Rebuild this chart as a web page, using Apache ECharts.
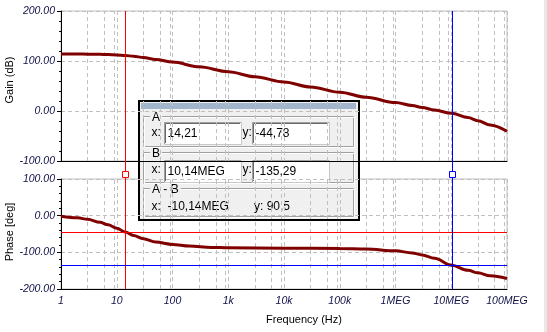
<!DOCTYPE html>
<html>
<head>
<meta charset="utf-8">
<script src="https://cdn.jsdelivr.net/npm/echarts@6/dist/echarts.min.js"></script>
<style>
  html, body { margin: 0; padding: 0; background: #fff; }
  #chart { width: 547px; height: 332px; }
</style>
</head>
<body>
<div id="chart"></div>
<script>
// Open-loop Bode response: gain (dB) and phase (deg) against frequency (Hz)
const gainFreq = [1, 2, 3, 5, 7, 10, 14.21, 20, 30, 50, 100, 300, 1e3, 3e3, 1e4, 3e4, 1e5, 3e5, 1e6, 2e6, 3e6, 5e6, 1.014e7, 2e7, 3e7, 5e7, 1e8];
const gainDb   = [114, 113.9, 113.7, 113.3, 112.8, 112.2, 111, 109.5, 107, 103, 97.8, 88.3, 78.5, 68.5, 58.2, 48, 37.6, 27.4, 16.8, 11, 7.2, 1.8, -4.6, -13, -19.5, -28, -40.6];

const phaseFreq = [1, 2, 3, 5, 7, 10, 14.21, 20, 30, 50, 100, 200, 500, 1e3, 1e4, 1e5, 3e5, 1e6, 2e6, 3e6, 5e6, 1.014e7, 2e7, 3e7, 5e7, 1e8];
const phaseDeg  = [-1.5, -6, -10, -18, -25, -34, -44.78, -54, -63, -72, -78.5, -83, -86.5, -87.8, -88.6, -89.5, -91, -96, -101.5, -107, -116, -135.29, -149, -156, -164, -171.5];

// Axis ticks
const freqTicks      = [1, 10, 100, 1e3, 1e4, 1e5, 1e6, 1e7, 1e8];
const freqTickLabels = ['1', '10', '100', '1k', '10k', '100k', '1MEG', '10MEG', '100MEG'];
const gainTicks  = [-100, 0, 100, 200];
const phaseTicks = [-200, -100, 0, 100];
// Intermediate dashed grid lines (3, 6 and 9 within each decade)
const minorGridFreq = [3, 6, 9, 30, 60, 90, 300, 600, 900, 3e3, 6e3, 9e3, 3e4, 6e4, 9e4,
                       3e5, 6e5, 9e5, 3e6, 6e6, 9e6, 3e7, 6e7, 9e7];

// Measurement cursors on the phase trace
const cursorNames  = ['A', 'B'];
const cursorFreq   = [14.21, 10.14e6];
const cursorPhase  = [-44.78, -135.29];
const cursorColors = ['#ff0000', '#0000ff'];
// Readout panel strings
const readoutX  = ['14,21', '10,14MEG'];
const readoutY  = ['-44,78', '-135,29'];
const readoutDX = '-10,14MEG';
const readoutDY = '90,5';

// Layout
const PLOT_LEFT = 61, PLOT_RIGHT = 40;
const TOP_Y = 11, TOP_H = 150;
const BOT_Y = 179, BOT_H = 110;
const GAP = BOT_Y - (TOP_Y + TOP_H);

const FONT = "'Liberation Sans', Arial, sans-serif";
const GRID_GREY = '#c0c0c0';
const dashed = { color: GRID_GREY, type: [4, 3], width: 1 };

const zip = (a, b) => a.map((v, i) => [v, b[i]]);

function freqLabel(v) {
  const idx = Math.round(Math.log10(v));
  return freqTickLabels[freqTicks.indexOf(Math.pow(10, idx))] || '';
}

function xAxisFor(gridIndex, showLabels) {
  return {
    type: 'log', logBase: 10, gridIndex,
    min: freqTicks[0], max: freqTicks[freqTicks.length - 1],
    axisLine: { show: true, onZero: false, lineStyle: { color: '#000', width: 1 } },
    axisTick: { show: false },
    splitLine: { show: true, lineStyle: dashed },
    axisLabel: {
      show: showLabels, formatter: freqLabel, margin: 7,
      fontFamily: FONT, fontSize: 10.5, fontStyle: 'italic', color: '#101048'
    }
  };
}

function yAxisFor(gridIndex, ticks) {
  return {
    type: 'value', gridIndex,
    min: ticks[0], max: ticks[ticks.length - 1], interval: ticks[1] - ticks[0],
    axisLine: { show: true, onZero: false, lineStyle: { color: '#000', width: 1 } },
    axisTick: { show: true, length: 4, lineStyle: { color: '#000' } },
    minorTick: { show: true, splitNumber: 5, length: 2, lineStyle: { color: '#000' } },
    splitLine: { show: true, lineStyle: dashed },
    axisLabel: {
      formatter: v => v.toFixed(2), margin: 6,
      fontFamily: FONT, fontSize: 10.5, fontStyle: 'italic', color: '#101048'
    }
  };
}

const minorGridMarkLine = {
  silent: true, symbol: ['none', 'none'], z: 1,
  label: { show: false }, emphasis: { disabled: true },
  lineStyle: dashed,
  data: minorGridFreq.map(f => ({ xAxis: f }))
};

const px = v => Math.round(v) + 0.5;

const cursorData = cursorFreq.map((f, i) => [f, cursorPhase[i]]);

const chart = echarts.init(document.getElementById('chart'), null, { renderer: 'canvas' });

// Readout panel
function textEl(x, y, text, extra) {
  return Object.assign({
    type: 'text', x, y,
    style: Object.assign({ text, fontFamily: FONT, fontSize: 12, fill: '#000', verticalAlign: 'middle' }, extra || {})
  });
}
function inputBox(x, y, w, h, text) {
  return [
    { type: 'rect', shape: { x: x + 0.5, y: y + 0.5, width: w, height: h }, style: { fill: '#fff', stroke: '#c8c8c8', lineWidth: 1 } },
    { type: 'polyline', shape: { points: [[x + 0.5, y + h], [x + 0.5, y + 0.5], [x + w, y + 0.5]] }, style: { stroke: '#a0a0a0', lineWidth: 1, fill: null } },
    { type: 'polyline', shape: { points: [[x + 1.5, y + h - 1], [x + 1.5, y + 1.5], [x + w - 1, y + 1.5]] }, style: { stroke: '#696969', lineWidth: 1, fill: null } },
    textEl(x + 3.5, y + h / 2 + 1, text)
  ];
}
function groupFrame(y, h, title) {
  return [
    { type: 'rect', shape: { x: 5.5, y: y + 0.5, width: 210, height: h }, style: { fill: null, stroke: '#a0a0a0', lineWidth: 1 } },
    { type: 'rect', shape: { x: 6.5, y: y + 1.5, width: 210, height: h }, style: { fill: null, stroke: '#ffffff', lineWidth: 1 } },
    textEl(12, y + 2, title, { backgroundColor: '#f0f0f0', padding: [0, 2, 0, 2] })
  ];
}

const panelChildren = [
  { type: 'rect', shape: { x: 1, y: 1, width: 220, height: 119 }, style: { fill: '#f0f0f0', stroke: '#000', lineWidth: 2 } },
  { type: 'rect', shape: { x: 3, y: 3, width: 215, height: 6 }, style: { fill: '#a1b6cd' } },
  ...groupFrame(16, 30, cursorNames[0]),
  textEl(13.5, 33, 'x:'),
  ...inputBox(26, 22, 77, 22, readoutX[0]),
  textEl(104.5, 33, 'y:'),
  ...inputBox(114, 22, 77, 22, readoutY[0]),
  ...groupFrame(52, 30, cursorNames[1]),
  textEl(13.5, 70, 'x:'),
  ...inputBox(26, 60, 77, 22, readoutX[1]),
  textEl(104.5, 70, 'y:'),
  ...inputBox(114, 60, 77, 22, readoutY[1]),
  ...groupFrame(88, 28, cursorNames[0] + ' - ' + cursorNames[1]),
  textEl(13.5, 107, 'x:'),
  textEl(29.5, 107, readoutDX),
  textEl(116, 107, 'y: ' + readoutDY)
];

const option = {
  animation: false,
  backgroundColor: '#ffffff',
  grid: [
    { left: PLOT_LEFT, right: PLOT_RIGHT, top: TOP_Y, height: TOP_H, show: true, borderColor: GRID_GREY, borderWidth: 1, backgroundColor: 'transparent' },
    { left: PLOT_LEFT, right: PLOT_RIGHT, top: BOT_Y, height: BOT_H, show: true, borderColor: GRID_GREY, borderWidth: 1, backgroundColor: 'transparent' }
  ],
  xAxis: [xAxisFor(0, false), xAxisFor(1, true)],
  yAxis: [yAxisFor(0, gainTicks), yAxisFor(1, phaseTicks)],
  series: [
    {
      name: 'Gain', type: 'line', xAxisIndex: 0, yAxisIndex: 0,
      data: zip(gainFreq, gainDb), showSymbol: false, symbol: 'none',
      smooth: 0.35, smoothMonotone: 'x',
      lineStyle: { color: '#800000', width: 3 }, z: 3, silent: true,
      markLine: minorGridMarkLine
    },
    {
      name: 'Phase', type: 'line', xAxisIndex: 1, yAxisIndex: 1,
      data: zip(phaseFreq, phaseDeg), showSymbol: false, symbol: 'none',
      smooth: 0.35, smoothMonotone: 'x',
      lineStyle: { color: '#800000', width: 3 }, z: 3, silent: true,
      markLine: minorGridMarkLine
    },
    {
      // cursor verticals across the gain plot
      type: 'custom', xAxisIndex: 0, yAxisIndex: 0, z: 6, silent: true,
      data: cursorData,
      renderItem(params, api) {
        const cs = params.coordSys;
        const p = api.coord([api.value(0), gainTicks[1]]);
        const col = cursorColors[params.dataIndex];
        return {
          type: 'line',
          shape: { x1: px(p[0]), y1: cs.y, x2: px(p[0]), y2: cs.y + cs.height },
          style: { stroke: col, lineWidth: 1 }
        };
      }
    },
    {
      // cursor crosshairs and handles on the phase plot
      type: 'custom', xAxisIndex: 1, yAxisIndex: 1, z: 6, silent: true,
      data: cursorData,
      renderItem(params, api) {
        const cs = params.coordSys;
        const p = api.coord([api.value(0), api.value(1)]);
        const col = cursorColors[params.dataIndex];
        const x = px(p[0]), y = px(p[1]);
        return {
          type: 'group',
          children: [
            { type: 'line', shape: { x1: cs.x, y1: y, x2: cs.x + cs.width, y2: y }, style: { stroke: col, lineWidth: 1 } },
            { type: 'line', shape: { x1: x, y1: cs.y - GAP, x2: x, y2: cs.y + cs.height }, style: { stroke: col, lineWidth: 1 } },
            { type: 'rect', shape: { x: x - 3, y: cs.y - 7.5, width: 6, height: 6 }, style: { fill: '#fff', stroke: col, lineWidth: 1 } }
          ]
        };
      }
    }
  ],
  graphic: [
    {
      type: 'text', x: 10, y: (TOP_Y + TOP_Y + TOP_H) / 2 - 6, rotation: Math.PI / 2,
      style: { text: 'Gain (dB)', fontFamily: FONT, fontSize: 11, fill: '#000', align: 'center', verticalAlign: 'middle' }
    },
    {
      type: 'text', x: 10, y: (BOT_Y + BOT_Y + BOT_H) / 2 - 2, rotation: Math.PI / 2,
      style: { text: 'Phase [deg]', fontFamily: FONT, fontSize: 11, fill: '#000', align: 'center', verticalAlign: 'middle' }
    },
    {
      type: 'text', x: 304, y: 320,
      style: { text: 'Frequency (Hz)', fontFamily: FONT, fontSize: 11, fill: '#000', align: 'center', verticalAlign: 'middle' }
    },
    { type: 'rect', shape: { x: 544, y: 0, width: 3, height: 332 }, style: { fill: '#e8e8e8' }, z: 0 },
    { type: 'group', x: 138, y: 100, z: 100, children: panelChildren }
  ]
};

chart.setOption(option);
</script>
</body>
</html>
